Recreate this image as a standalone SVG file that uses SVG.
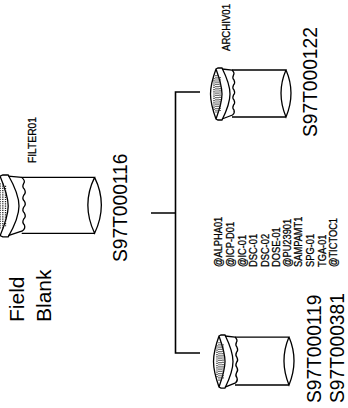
<svg xmlns="http://www.w3.org/2000/svg" width="348" height="408" viewBox="0 0 348 408">
<style>
text{font-family:"Liberation Sans",Arial,sans-serif;fill:#000}
.big{font-size:19.2px}
.fb{font-size:21px}
.sm{font-size:9.3px;stroke:#000;stroke-width:.25}
.b{fill:none;stroke:#000;stroke-width:1.3;vector-effect:non-scaling-stroke}
.d{fill:none;stroke:#222;stroke-width:1.3;stroke-dasharray:1.2 1;vector-effect:non-scaling-stroke}
.c{fill:none;stroke:#000;stroke-width:1.6}
</style>
<defs>
<g id="bottle">
<path class="b" d="M6 1C2 12 0.500 20 0.500 26C0.500 32 2 40 6 51L8 52H12C17 42 20 34 20 26C20 18 17 10 12 0H8L6 1C10 12 12 20 12 26C12 32 10 40 6 51"/>
<path class="b" d="M12 1L22 2q3 3 1.500 5q-1.500 3 .5 5q1.500 3-.5 5q-1.500 3 .5 5q1.500 3-.5 5q-1.500 3 .5 5q1.500 3-.5 5q-1.500 3 .5 5q1 3-1.500 5L12 51"/>
<path class="b" d="M22 2H76Q66 25 76 49Q86 25 76 2M76 49H22"/>
<path class="d" d="M4 10V42M6 7V45M8 7V45M10 9V43"/>
</g>
</defs>
<g id="connectors">
<path class="c" d="M151 213H175M200 92H175.500V353H200"/>
</g>
<g id="archive-bottle"><use href="#bottle" transform="translate(210 68)"/></g>
<g id="filter-bottle"><use href="#bottle" transform="translate(-8 175) scale(1.35 1.19)"/></g>
<g id="analysis-bottle"><use href="#bottle" transform="translate(213 335) scale(1 1.02)"/></g>
<g id="labels">
<text class="sm" transform="translate(36 163) rotate(-90) scale(1 1.1)" textLength="46" lengthAdjust="spacingAndGlyphs">FILTER01</text>
<text class="sm" transform="translate(230 51) rotate(-90) scale(1 1.1)" textLength="47" lengthAdjust="spacingAndGlyphs">ARCHIV01</text>
<text class="big" transform="translate(127 262) rotate(-90) scale(1 1.08)">S97T000116</text>
<text class="big" transform="translate(317 137) rotate(-90) scale(1 1.08)">S97T000122</text>
<text class="big" transform="translate(321 403) rotate(-90) scale(1 1.08)">S97T000119</text>
<text class="big" transform="translate(343.500 403) rotate(-90) scale(1 1.08)">S97T000381</text>
<text class="fb" transform="translate(24 322) rotate(-90)">Field</text>
<text class="fb" transform="translate(51 322) rotate(-90)">Blank</text>
<g id="list">
<text class="sm" transform="translate(222 267) rotate(-90) scale(1 1.2)">@ALPHA01</text>
<text class="sm" transform="translate(234 267) rotate(-90) scale(1 1.2)">@ICP-D01</text>
<text class="sm" transform="translate(246 267) rotate(-90) scale(1 1.2)">@IC-01</text>
<text class="sm" transform="translate(257 267) rotate(-90) scale(1 1.2)">DSC-01</text>
<text class="sm" transform="translate(269 267) rotate(-90) scale(1 1.2)">DSC-02</text>
<text class="sm" transform="translate(280 267) rotate(-90) scale(1 1.2)">DOSE-01</text>
<text class="sm" transform="translate(291 267) rotate(-90) scale(1 1.2)">@PU23901</text>
<text class="sm" transform="translate(302 267) rotate(-90) scale(1 1.2)">SAMPAMT1</text>
<text class="sm" transform="translate(314 267) rotate(-90) scale(1 1.2)">SPG-01</text>
<text class="sm" transform="translate(326 267) rotate(-90) scale(1 1.2)">TGA-01</text>
<text class="sm" transform="translate(337 267) rotate(-90) scale(1 1.2)">@TICTOC1</text>
</g>
</g>
</svg>
